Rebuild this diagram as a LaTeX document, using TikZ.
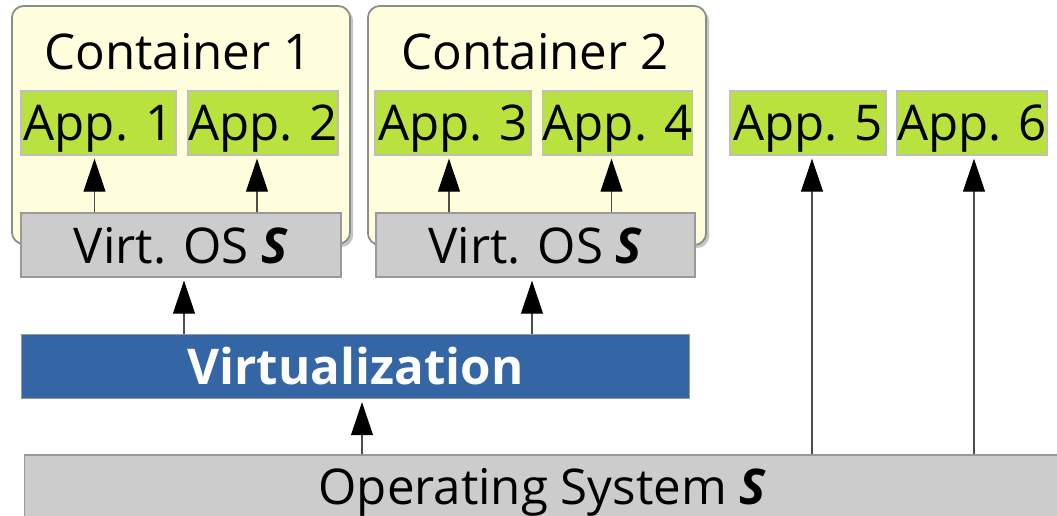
\documentclass[tikz,border=0pt]{standalone}
\usepackage{fontspec}
\setmainfont{Open Sans}
\usetikzlibrary{arrows.meta, shadows}
\definecolor{contyellow}{RGB}{255,255,221}
\definecolor{appgreen}{RGB}{186,226,62}
\definecolor{osgray}{RGB}{204,204,204}
\definecolor{virtblue}{RGB}{52,101,164}
\tikzstyle{container} = [rectangle, rounded corners=0.12cm, draw=black!45, line width=0.5pt, fill=contyellow, drop shadow={shadow xshift=0.03cm, shadow yshift=-0.03cm, fill=black!45}]
\tikzstyle{app} = [rectangle, minimum height=0.64cm, inner sep=0pt, text depth=0pt, draw=black!25, fill=appgreen]
\tikzstyle{os} = [rectangle, inner sep=0pt, text depth=0pt, draw=black!40, fill=osgray]
\tikzstyle{virt} = [rectangle, inner sep=0pt, draw=black!40, fill=virtblue, text=white, font=\fontsize{14}{16}\selectfont\bfseries]
\tikzstyle{arrow} = [draw=black!70, line width=0.3pt, -{Triangle[length=0.33cm, width=0.22cm, color=black]}, shorten >=0.03cm]
\newcommand{\osS}{\textbf{\textit{S}}}

\begin{document}
\begin{tikzpicture}[x=0.01cm, y=-0.01cm, font=\fontsize{14}{16}\selectfont]
    \useasboundingbox (0,0) rectangle (1057,516);
    % containers
    \node [container, minimum width=3.38cm, minimum height=2.38cm] at (181,125) (cont1) {};
    \node [container, minimum width=3.38cm, minimum height=2.39cm] at (537,125.5) (cont2) {};
    \node at (178,52) (cont1label) {Container 1};
    \node at (535,52) (cont2label) {Container 2};
    % applications
    \node [app, minimum width=1.55cm] at (98.5,123) (app1) {App. 1};
    \node [app, minimum width=1.50cm] at (263,123) (app2) {App. 2};
    \node [app, minimum width=1.56cm] at (453,123) (app3) {App. 3};
    \node [app, minimum width=1.49cm] at (617.5,123) (app4) {App. 4};
    \node [app, minimum width=1.56cm] at (808,123) (app5) {App. 5};
    \node [app, minimum width=1.50cm] at (972,123) (app6) {App. 6};
    % virtual OS, virtualization, host OS
    \node [os, minimum width=3.20cm, minimum height=0.64cm] at (181,245) (vos1) {Virt. OS \osS};
    \node [os, minimum width=3.19cm, minimum height=0.64cm] at (535.5,245) (vos2) {Virt. OS \osS};
    \node [virt, minimum width=6.68cm, minimum height=0.64cm] at (355.5,366.5) (virt) {Virtualization};
    \node [os, minimum width=10.35cm, minimum height=0.63cm] at (542.5,486.5) (hostos) {Operating System \osS};
    % arrows
    \draw [arrow] ([xshift=-0.04cm]app1.south |- vos1.north) -- ([xshift=-0.04cm]app1.south);
    \draw [arrow] ([xshift=-0.06cm]app2.south |- vos1.north) -- ([xshift=-0.06cm]app2.south);
    \draw [arrow] ([xshift=-0.04cm]app3.south |- vos2.north) -- ([xshift=-0.04cm]app3.south);
    \draw [arrow] ([xshift=-0.06cm]app4.south |- vos2.north) -- ([xshift=-0.06cm]app4.south);
    \draw [arrow] ([xshift=0.03cm]vos1.south |- virt.north) -- ([xshift=0.03cm]vos1.south);
    \draw [arrow] ([xshift=-0.035cm]vos2.south |- virt.north) -- ([xshift=-0.035cm]vos2.south);
    \draw [arrow] ([xshift=0.065cm]virt.south |- hostos.north) -- ([xshift=0.065cm]virt.south);
    \draw [arrow] ([xshift=0.04cm]app5.south |- hostos.north) -- ([xshift=0.04cm]app5.south);
    \draw [arrow] ([xshift=0.02cm]app6.south |- hostos.north) -- ([xshift=0.02cm]app6.south);
\end{tikzpicture}
\end{document}
